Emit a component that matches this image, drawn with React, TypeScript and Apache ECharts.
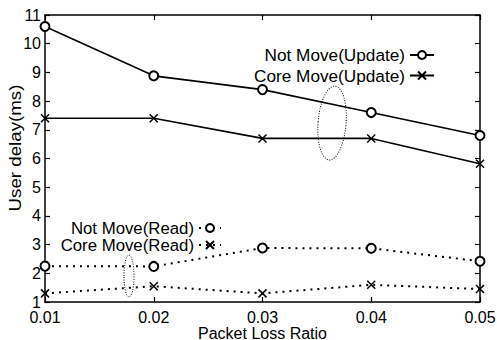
import React, { useEffect, useRef } from "react";
import * as echarts from "echarts";

const categories = ["0.01", "0.02", "0.03", "0.04", "0.05"];
const notMoveUpdate = [10.6, 8.88, 8.4, 7.6, 6.8];
const coreMoveUpdate = [7.4, 7.4, 6.7, 6.7, 5.82];
const notMoveRead = [2.25, 2.24, 2.88, 2.87, 2.42];
const coreMoveRead = [1.3, 1.55, 1.3, 1.6, 1.45];
const yTicks = { min: 1, max: 11, interval: 1 };

const FONT = "Liberation Sans";
const CROSS = "path://M0,0L10,10M10,0L0,10";

export default function App() {
  const ref = useRef<HTMLDivElement>(null);
  useEffect(() => {
    if (!ref.current) return;
    const chart = echarts.init(ref.current, undefined, { renderer: "svg" });
    const axisLine = { show: true, lineStyle: { color: "#000", width: 1.5 } };
    const axisTick = { show: true, inside: true, length: 5, lineStyle: { color: "#000", width: 1.2 } };
    const solid = { color: "#000", width: 1.6, type: "solid" as const };
    const dotted = { color: "#000", width: 2, type: [2, 5] as any };
    const base = {
      type: "line" as const,
      symbolSize: 9,
      color: "#000",
      itemStyle: { color: "#000", borderColor: "#000", borderWidth: 1.5 },
    };
    const mkLegend = (name: string, right: number, top: number, itemWidth: number, lh: number, fs: number) => ({
      data: [name],
      orient: "vertical",
      align: "right",
      right,
      top,
      padding: 0,
      itemWidth,
      itemHeight: 10,
      textStyle: { color: "#000", fontSize: fs, fontFamily: FONT, lineHeight: lh },
    });
    chart.setOption({
      animation: false,
      backgroundColor: "#fff",
      textStyle: { fontFamily: FONT, color: "#000" },
      grid: { left: 45, right: 17, top: 15, bottom: 38, outerBoundsMode: "none", containLabel: false },
      xAxis: [
        {
          type: "category",
          data: categories,
          boundaryGap: false,
          axisLine,
          axisTick: { ...axisTick, alignWithLabel: true },
          axisLabel: { color: "#000", fontSize: 16, fontFamily: FONT, margin: 9, lineHeight: 13 },
          splitLine: { show: false },
          name: "Packet Loss Ratio",
          nameLocation: "middle",
          nameGap: 24,
          nameMoveOverlap: false,
          nameTextStyle: { color: "#000", fontSize: 16, fontFamily: FONT, lineHeight: 14 },
        },
        {
          type: "category",
          data: categories,
          boundaryGap: false,
          position: "top",
          axisLine,
          axisTick,
          axisLabel: { show: false },
          splitLine: { show: false },
        },
      ],
      yAxis: [
        {
          type: "value",
          ...yTicks,
          axisLine,
          axisTick,
          axisLabel: { color: "#000", fontSize: 16, fontFamily: FONT, margin: 4, lineHeight: 12 },
          splitLine: { show: false },
        },
        {
          type: "value",
          ...yTicks,
          position: "right",
          axisLine,
          axisTick,
          axisLabel: { show: false },
          splitLine: { show: false },
        },
      ],
      legend: [
        mkLegend("Not Move(Update)", 62, 46.5, 24, 16, 17.2),
        mkLegend("Core Move(Update)", 62, 67, 24, 16, 17.2),
        mkLegend("Not Move(Read)", 275, 219.5, 22, 14, 16.8),
        mkLegend("Core Move(Read)", 275, 236.5, 22, 14, 16.8),
      ],
      series: [
        { ...base, name: "Not Move(Update)", data: notMoveUpdate, symbol: "emptyCircle", lineStyle: solid },
        { ...base, name: "Core Move(Update)", data: coreMoveUpdate, symbol: CROSS, symbolSize: 8, lineStyle: solid },
        { ...base, name: "Not Move(Read)", data: notMoveRead, symbol: "emptyCircle", lineStyle: dotted },
        { ...base, name: "Core Move(Read)", data: coreMoveRead, symbol: CROSS, symbolSize: 8, lineStyle: dotted },
      ],
      graphic: [
        {
          type: "text",
          x: 15,
          y: 148,
          rotation: Math.PI / 2,
          scaleX: 1.17,
          style: {
            text: "User delay(ms)",
            fontSize: 16,
            fontFamily: FONT,
            fill: "#000",
            align: "center",
            verticalAlign: "middle",
          },
        },
        {
          type: "ellipse",
          shape: { cx: 332, cy: 123, rx: 14, ry: 37 },
          rotation: -0.08,
          originX: 332,
          originY: 123,
          style: { fill: "none", stroke: "#000", lineWidth: 1, lineDash: [1, 1.5] },
          z: 10,
        },
        {
          type: "ellipse",
          shape: { cx: 129, cy: 276, rx: 5, ry: 21 },
          style: { fill: "none", stroke: "#000", lineWidth: 1, lineDash: [1, 1.5] },
          z: 10,
        },
      ],
    });
    return () => chart.dispose();
  }, []);
  return (
    <div
      ref={ref}
      style={{ position: "fixed", left: 0, top: 0, width: 497, height: 340, background: "#fff" }}
    />
  );
}
